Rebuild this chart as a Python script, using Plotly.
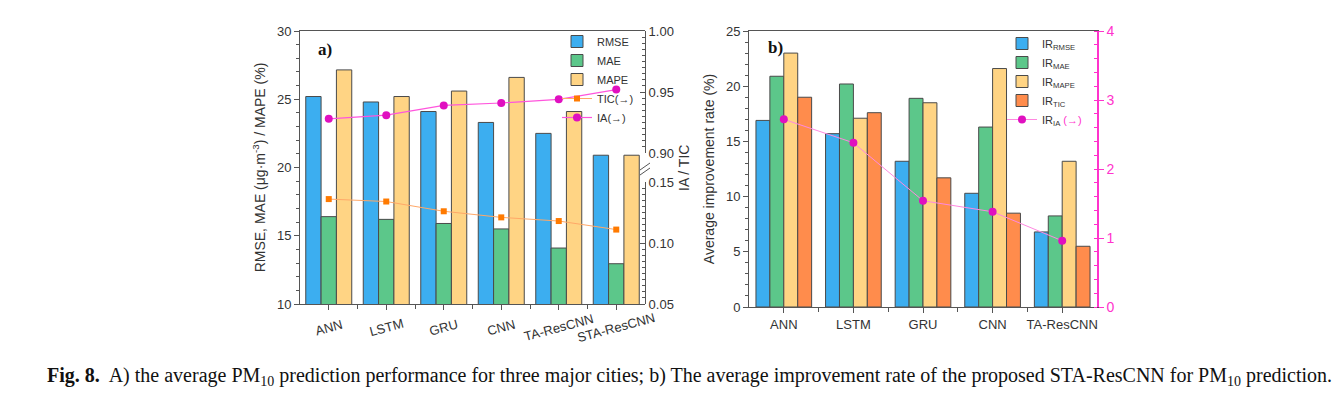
import plotly.graph_objects as go

# ---------------- data ----------------
models_a = ["ANN", "LSTM", "GRU", "CNN", "TA-ResCNN", "STA-ResCNN"]
rmse = [25.2, 24.8, 24.1, 23.3, 22.5, 20.9]
mae = [16.4, 16.2, 15.9, 15.5, 14.1, 12.95]
mape = [27.15, 25.2, 25.6, 26.6, 24.1, 20.9]
tic = [0.136, 0.134, 0.126, 0.121, 0.118, 0.111]
ia = [0.928, 0.931, 0.939, 0.941, 0.944, 0.952]

models_b = ["ANN", "LSTM", "GRU", "CNN", "TA-ResCNN"]
ir_rmse = [16.9, 15.7, 13.2, 10.3, 6.8]
ir_mae = [20.9, 20.2, 18.9, 16.3, 8.25]
ir_mape = [23.0, 17.1, 18.5, 21.6, 13.2]
ir_tic = [19.0, 17.6, 11.7, 8.5, 5.5]
ir_ia = [2.72, 2.38, 1.54, 1.38, 0.96]

W, H = 1344, 394
OFF = 8  # page body margin
C_RMSE = "#3caef0"
C_MAE = "#5cc78a"
C_MAPE = "#ffd484"
C_TIC = "#ff8c4c"
EDGE = "#4a4a4a"
AX = "#555555"
MAG = "#ff33cc"
FONT = "Liberation Sans"


def px_x(p):
    return (p - OFF) / W


def px_y(p):
    return (H - (p - OFF)) / H


xa = list(range(len(models_a)))
xb = list(range(len(models_b)))

fig = go.Figure()

# ---- left chart ----
for name, vals, col in [("RMSE", rmse, C_RMSE), ("MAE", mae, C_MAE), ("MAPE", mape, C_MAPE)]:
    fig.add_bar(x=xa, y=vals, name=name, marker=dict(color=col, line=dict(color=EDGE, width=1)),
                xaxis="x", yaxis="y", legend="legend")
fig.add_scatter(x=xa, y=tic, name="TIC(→)", mode="lines+markers",
                line=dict(color="#ffa868", width=1),
                marker=dict(symbol="square", size=6, color="#ff7a00"),
                xaxis="x", yaxis="y4", legend="legend")
fig.add_scatter(x=xa, y=ia, name="IA(→)", mode="lines+markers",
                line=dict(color="#ff55dd", width=1.2),
                marker=dict(symbol="circle", size=8, color="#e010c0"),
                xaxis="x", yaxis="y3", legend="legend")

# ---- right chart ----
for name, vals, col in [("IR<sub>RMSE</sub>", ir_rmse, C_RMSE), ("IR<sub>MAE</sub>", ir_mae, C_MAE),
                        ("IR<sub>MAPE</sub>", ir_mape, C_MAPE), ("IR<sub>TIC</sub>", ir_tic, C_TIC)]:
    fig.add_bar(x=xb, y=vals, name=name, marker=dict(color=col, line=dict(color=EDGE, width=1)),
                xaxis="x2", yaxis="y2", legend="legend2")
fig.add_scatter(x=xb, y=ir_ia, name="IR<sub>IA</sub> <span style='color:#ff33cc'>(→)</span>",
                mode="lines+markers", line=dict(color="#ff88e0", width=1),
                marker=dict(symbol="circle", size=8, color="#e010c0"),
                xaxis="x2", yaxis="y5", legend="legend2")

tickfont = dict(family=FONT, size=13, color="#333333")


def yax(ticks="outside"):
    return dict(showline=True, linecolor=AX, linewidth=1, ticks=ticks, ticklen=5,
                tickcolor=AX, showgrid=False, zeroline=False, tickfont=tickfont, automargin=False,
                minor=dict(ticks=ticks, ticklen=3, tickcolor=AX))


fig.update_layout(
    template="none",
    width=W, height=H, margin=dict(l=0, r=0, t=0, b=0, autoexpand=False),
    paper_bgcolor="white", plot_bgcolor="rgba(0,0,0,0)",
    barmode="group", bargap=0.2, bargroupgap=0,
    showlegend=True,
    xaxis=dict(domain=[px_x(300), px_x(645)], anchor="y", range=[-0.5, len(xa) - 0.5],
               tickvals=xa, ticktext=models_a, showticklabels=False, showline=True, mirror=True,
               linecolor=AX, ticks="outside", ticklen=5, tickcolor=AX, showgrid=False,
               zeroline=False, tickfont=tickfont, automargin=False,
               minor=dict(tickvals=[i + 0.5 for i in xa[:-1]], ticks="outside", ticklen=4, tickcolor=AX)),
    yaxis=dict(domain=[px_y(304), px_y(31)], anchor="x", range=[10, 30], dtick=5,
               title=dict(text="RMSE, MAE (μg·m<sup>-3</sup>) / MAPE (%)", font=dict(family=FONT, size=14, color="#333"), standoff=8),
               **yax()),
    yaxis3=dict(domain=[px_y(153), px_y(31)], anchor="x", side="right", range=[0.90, 1.00],
                tickvals=[0.90, 0.95, 1.00], ticktext=["0.90", "0.95", "1.00"], **yax("inside")),
    yaxis4=dict(domain=[px_y(304), px_y(182)], anchor="x", side="right", range=[0.05, 0.15],
                tickvals=[0.05, 0.10, 0.15], ticktext=["0.05", "0.10", "0.15"], **yax("inside")),
    xaxis2=dict(domain=[px_x(749), px_x(1097)], anchor="y2", range=[-0.5, len(xb) - 0.5],
                tickvals=xb, ticktext=models_b, showline=True, mirror=True,
                linecolor=AX, ticks="outside", ticklen=5, tickcolor=AX, showgrid=False,
                zeroline=False, tickfont=tickfont, automargin=False,
                minor=dict(tickvals=[i + 0.5 for i in xb[:-1]], ticks="outside", ticklen=4, tickcolor=AX)),
    yaxis2=dict(domain=[px_y(307), px_y(31)], anchor="x2", range=[0, 25], dtick=5,
                title=dict(text="Average improvement rate (%)", font=dict(family=FONT, size=14, color="#333"), standoff=8),
                **yax()),
    yaxis5=dict(overlaying="y2", anchor="x2", side="right", range=[0, 4], dtick=1,
                showline=True, linecolor=MAG, linewidth=1.5, ticks="outside", ticklen=5,
                tickcolor=MAG, showgrid=False, zeroline=False, automargin=False,
                tickfont=dict(family=FONT, size=14, color=MAG),
                minor=dict(ticks="inside", ticklen=3, tickcolor=MAG)),
    legend=dict(x=px_x(557), y=px_y(27), xanchor="left", yanchor="top", bgcolor="rgba(0,0,0,0)",
                font=dict(family=FONT, size=11, color="#333"), tracegroupgap=0, itemwidth=30),
    legend2=dict(x=px_x(1002), y=px_y(29), xanchor="left", yanchor="top", bgcolor="rgba(0,0,0,0)",
                 font=dict(family=FONT, size=11, color="#333"), tracegroupgap=0, itemwidth=30),
)

annotations = [
    dict(text="<b>a)</b>", x=px_x(316), y=px_y(50), xref="paper", yref="paper", xanchor="left",
         yanchor="middle", showarrow=False, font=dict(family="Liberation Serif", size=17, color="#111")),
    dict(text="<b>b)</b>", x=px_x(766), y=px_y(48), xref="paper", yref="paper", xanchor="left",
         yanchor="middle", showarrow=False, font=dict(family="Liberation Serif", size=17, color="#111")),
    dict(text="IA / TIC", x=px_x(684), y=px_y(168), xref="paper", yref="paper", textangle=-90,
         xanchor="center", yanchor="middle", showarrow=False, font=dict(family=FONT, size=14, color="#333")),
    dict(text="<b>Fig. 8.</b>  A) the average PM<sub>10</sub> prediction performance for three major cities; "
              "b) The average improvement rate of the proposed STA-ResCNN for PM<sub>10</sub> prediction.",
         x=px_x(45), y=px_y(376), xref="paper", yref="paper", xanchor="left", yanchor="middle",
         showarrow=False, font=dict(family="Liberation Serif", size=20, color="#111")),
]
# rotated category labels of the left chart, centred under their ticks
for i, lab in zip(xa, models_a):
    annotations.append(dict(text=lab, x=i, xref="x", y=px_y(327), yref="paper", textangle=-15,
                            xanchor="center", yanchor="middle", showarrow=False, font=tickfont))
fig.update_layout(annotations=annotations)

# axis-break marks on the right spine
shapes = []
for dy in (0, 5):
    shapes.append(dict(type="line", xref="paper", yref="paper",
                       x0=px_x(640), y0=px_y(172 + dy - 2), x1=px_x(650), y1=px_y(165 + dy - 2),
                       line=dict(color=AX, width=1)))
fig.update_layout(shapes=shapes)

fig.write_html("out.html")
